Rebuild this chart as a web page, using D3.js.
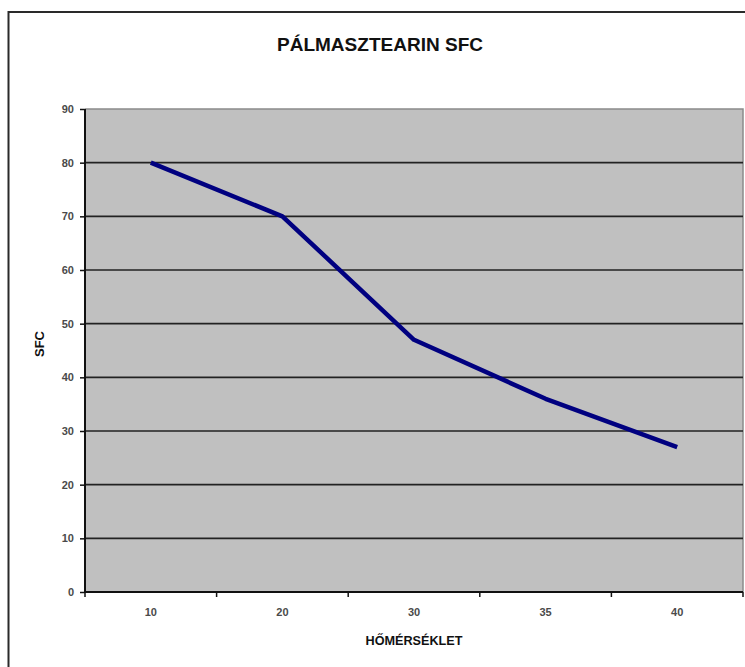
<!DOCTYPE html>
<html>
<head>
<meta charset="utf-8">
<script src="https://cdn.jsdelivr.net/npm/d3@7"></script>
<style>
  body { margin: 0; background: #fff; }
  text { font-family: Arial, "Liberation Sans", sans-serif; }
</style>
</head>
<body>
<script>
// data
var categories = ["10", "20", "30", "35", "40"];
var sfcValues = [80, 70, 47, 36, 27];
var yTicks = [0, 10, 20, 30, 40, 50, 60, 70, 80, 90];

var width = 745;
var height = 667;
var plot = {left: 85, right: 743, top: 109, bottom: 592};

var svg = d3.select("body")
  .append("svg")
    .attr("width", width)
    .attr("height", height);

// outer frame (runs off the right and bottom edge)
svg.append("rect")
  .attr("x", 8.5)
  .attr("y", 12)
  .attr("width", 800)
  .attr("height", 720)
  .attr("fill", "none")
  .attr("stroke", "#2a2a2a")
  .attr("stroke-width", 2);

//Scales
var x = d3.scaleBand()
  .domain(categories)
  .range([plot.left, plot.right])
  .padding(0);

var y = d3.scaleLinear()
  .domain([0, 90])
  .range([plot.bottom, plot.top]);

// plot background
svg.append("rect")
  .attr("x", plot.left)
  .attr("y", y(90))
  .attr("width", plot.right - plot.left)
  .attr("height", y(0) - y(90))
  .attr("fill", "#c0c0c0");

// top / right border of plot area
svg.append("path")
  .attr("d", "M" + plot.left + "," + y(90) + "H" + plot.right + "V" + y(0))
  .attr("fill", "none")
  .attr("stroke", "#8a8a8a")
  .attr("stroke-width", 1.5);

// gridlines
svg.append("g")
  .selectAll("line")
  .data(yTicks.filter(d => d > 0 && d < 90))
  .enter()
  .append("line")
    .attr("x1", plot.left)
    .attr("x2", plot.right)
    .attr("y1", d => y(d))
    .attr("y2", d => y(d))
    .attr("stroke", "#222")
    .attr("stroke-width", 1.6);

//Axes
var yAxisCall = d3.axisLeft(y)
  .tickValues(yTicks)
  .tickSize(5)
  .tickPadding(6);

var yAxisGroup = svg.append("g")
  .attr("class", "y-axis")
  .attr("transform", "translate(" + plot.left + ",0)")
  .call(yAxisCall);

var xAxisCall = d3.axisBottom(x)
  .tickSize(0)
  .tickPadding(16);

var xAxisGroup = svg.append("g")
  .attr("class", "x-axis")
  .attr("transform", "translate(0," + plot.bottom + ")")
  .call(xAxisCall);

// x ticks sit on the category boundaries
var boundaries = categories.map(c => x(c)).concat([x.range()[1]]);
xAxisGroup.selectAll(".bound")
  .data(boundaries)
  .enter()
  .append("line")
    .attr("class", "bound")
    .attr("x1", d => d)
    .attr("x2", d => d)
    .attr("y1", 0)
    .attr("y2", 5)
    .attr("stroke", "#111")
    .attr("stroke-width", 1.5);

[yAxisGroup, xAxisGroup].forEach(function(g) {
  g.select(".domain")
    .attr("stroke", "#111")
    .attr("stroke-width", 2);
  g.selectAll(".tick line")
    .attr("stroke", "#111")
    .attr("stroke-width", 1.5);
  g.selectAll(".tick text")
    .attr("font-size", 11)
    .attr("font-weight", "bold")
    .attr("fill", "#4a4a4a");
});
yAxisGroup.select(".domain").attr("d", "M0," + y(90) + "V" + y(0));
xAxisGroup.select(".domain").attr("d", "M" + plot.left + ",0H" + plot.right);

// line
var line = d3.line()
  .x((d, i) => x(categories[i]) + x.bandwidth() / 2)
  .y(d => y(d));

svg.append("path")
  .datum(sfcValues)
  .attr("d", line)
  .attr("fill", "none")
  .attr("stroke", "#000080")
  .attr("stroke-width", 4.5)
  .attr("stroke-linejoin", "round");

//Labels
svg.append("text")
  .attr("x", 380)
  .attr("y", 51)
  .attr("text-anchor", "middle")
  .attr("font-size", 19)
  .attr("font-weight", "bold")
  .attr("fill", "#111")
  .attr("textLength", 206)
  .attr("lengthAdjust", "spacingAndGlyphs")
  .text("PÁLMASZTEARIN SFC");

svg.append("text")
  .attr("x", (plot.left + plot.right) / 2)
  .attr("y", 645)
  .attr("text-anchor", "middle")
  .attr("font-size", 13)
  .attr("font-weight", "bold")
  .attr("fill", "#111")
  .attr("textLength", 97)
  .attr("lengthAdjust", "spacingAndGlyphs")
  .text("HŐMÉRSÉKLET");

svg.append("text")
  .attr("transform", "translate(44,344) rotate(-90)")
  .attr("text-anchor", "middle")
  .attr("font-size", 13)
  .attr("font-weight", "bold")
  .attr("fill", "#111")
  .text("SFC");
</script>
</body>
</html>
